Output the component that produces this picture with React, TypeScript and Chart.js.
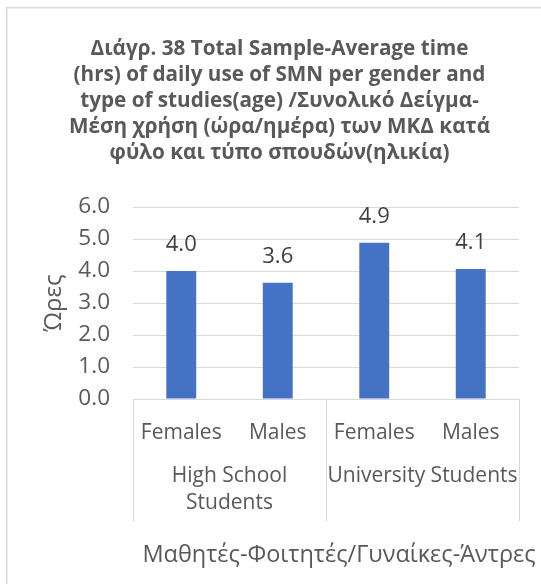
import React, { useEffect, useRef } from "react";
import { Chart, registerables } from "chart.js";

Chart.register(...registerables);

const titleLines = [
  "Διάγρ. 38 Total Sample-Average time",
  "(hrs) of daily use of SMN per gender and",
  "type of studies(age) /Συνολικό Δείγμα-",
  "Μέση χρήση (ώρα/ημέρα) των ΜΚΔ κατά",
  "φύλο και τύπο σπουδών(ηλικία)",
];
const categories = ["Females", "Males", "Females", "Males"];
const groupLabels = [["High School", "Students"], ["University Students"]];
const groupSizes = [2, 2];
const values = [4.0, 3.63, 4.88, 4.06];
const yTitle = "Ώρες";
const xTitle = "Μαθητές-Φοιτητές/Γυναίκες-Άντρες";
const yMin = 0;
const yMax = 6;
const yStep = 1;

const FONT = "'Open Sans', 'Noto Sans', sans-serif";
const TEXT = "#595959";
const GRID = "#d9d9d9";

const overlay = {
  id: "overlay",
  afterDraw(chart: any) {
    const ctx = chart.ctx;
    const { left, right, bottom } = chart.chartArea;
    const xs = chart.scales.x;
    ctx.save();
    // outer frame
    ctx.strokeStyle = GRID;
    ctx.lineWidth = 1.5;
    ctx.strokeRect(6.75, 7.75, 1000, 1000);

    // group separators
    const bounds: number[] = [left];
    let idx = 0;
    groupSizes.forEach((n) => {
      idx += n;
      if (idx >= categories.length) bounds.push(right);
      else bounds.push((xs.getPixelForValue(idx - 1) + xs.getPixelForValue(idx)) / 2);
    });
    ctx.strokeStyle = GRID;
    ctx.lineWidth = 1;
    ctx.beginPath();
    bounds.forEach((b) => {
      const bx = Math.round(b) + 0.5;
      ctx.moveTo(bx, bottom);
      ctx.lineTo(bx, bottom + 122);
    });
    ctx.stroke();

    // group labels
    ctx.fillStyle = TEXT;
    ctx.font = `21px ${FONT}`;
    ctx.textAlign = "center";
    ctx.textBaseline = "middle";
    groupLabels.forEach((lines, g) => {
      const cx = (bounds[g] + bounds[g + 1]) / 2;
      lines.forEach((ln, k) => {
        ctx.fillText(ln, cx, bottom + 77 + k * 27);
      });
    });

    // x axis title
    ctx.font = `23.5px ${FONT}`;
    ctx.fillText(xTitle, 339, 555);

    // data labels
    ctx.fillStyle = "#404040";
    ctx.font = `22px ${FONT}`;
    const meta = chart.getDatasetMeta(0);
    meta.data.forEach((bar: any, i: number) => {
      ctx.fillText(values[i].toFixed(1), bar.x, bar.y - 26);
    });
    ctx.restore();
  },
};

export default function App() {
  const ref = useRef<HTMLCanvasElement | null>(null);
  useEffect(() => {
    if (!ref.current) return;
    const chart = new Chart(ref.current, {
      type: "bar",
      data: {
        labels: categories,
        datasets: [
          {
            data: values,
            backgroundColor: "#4472C4",
            borderWidth: 0,
            categoryPercentage: 1,
            barPercentage: 0.31,
          },
        ],
      },
      options: {
        responsive: false,
        maintainAspectRatio: false,
        animation: false,
        devicePixelRatio: 1,
        layout: { padding: { top: 36, left: 40, right: 22, bottom: 0 } },
        plugins: {
          legend: { display: false },
          tooltip: { enabled: false },
          title: {
            display: true,
            text: titleLines,
            color: TEXT,
            font: { family: FONT, size: 20.7, weight: "bold", lineHeight: 26 / 20.7 },
            padding: { top: 0, bottom: 41 },
          },
        },
        scales: {
          x: {
            grid: { display: false },
            border: { display: false },
            ticks: {
              color: TEXT,
              font: { family: FONT, size: 21 },
              padding: 13,
              maxRotation: 0,
              autoSkip: false,
            },
            afterFit: (s: any) => {
              s.height = 185;
            },
          },
          y: {
            min: yMin,
            max: yMax,
            grid: { color: GRID, lineWidth: 1, drawTicks: false },
            border: { display: false },
            ticks: {
              stepSize: yStep,
              color: TEXT,
              font: { family: FONT, size: 22.5 },
              padding: 23,
              callback: (v: any) => Number(v).toFixed(1),
            },
            title: {
              display: true,
              text: yTitle,
              color: TEXT,
              font: { family: FONT, size: 24 },
              padding: { top: 0, bottom: 0 },
            },
            afterFit: (s: any) => {
              s.width = 93;
            },
          },
        },
      },
      plugins: [overlay],
    });
    return () => chart.destroy();
  }, []);
  return (
    <div style={{ position: "fixed", left: 0, top: 0, width: 541, height: 584, background: "#fff" }}>
      <canvas ref={ref} width={541} height={584} style={{ width: 541, height: 584, display: "block" }} />
    </div>
  );
}
